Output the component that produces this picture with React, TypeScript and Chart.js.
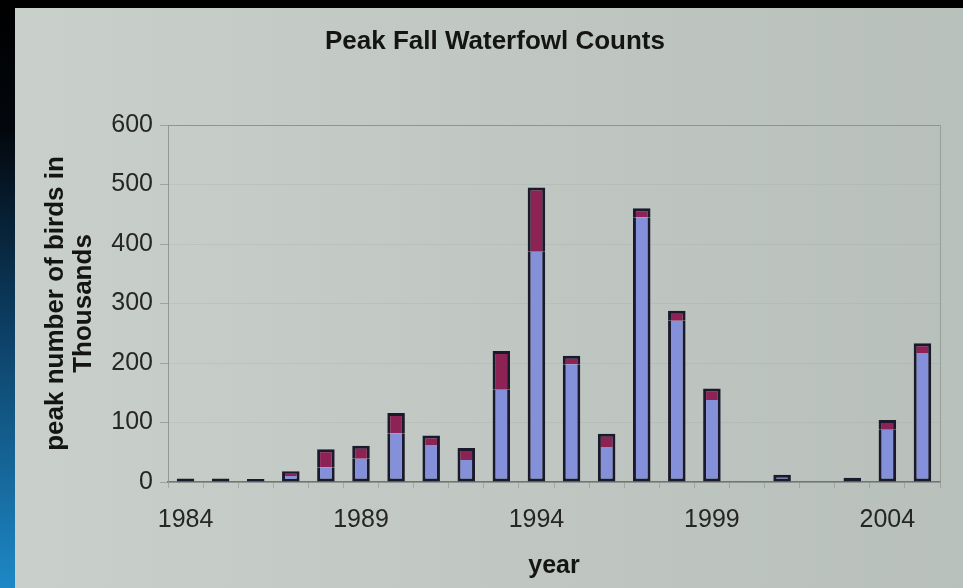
import React, { useEffect, useRef } from "react";
import { Chart, registerables } from "chart.js";

Chart.register(...registerables);

// Survey years, one bar each
const years = [
  "1984", "1985", "1986", "1987", "1988", "1989", "1990", "1991", "1992", "1993", "1994",
  "1995", "1996", "1997", "1998", "1999", "2000", "2001", "2002", "2003", "2004", "2005",
];
// Years that carry a label on the horizontal axis
const labelledYears = ["1984", "1989", "1994", "1999", "2004"];

// Peak counts in thousands: lower (blue) and upper (maroon) parts of each stack
const lowerCounts = [6, 6, 5, 10, 25, 39, 82, 62, 37, 155, 387, 198, 59, 445, 271, 138, 0, 12, 0, 7, 88, 217];
const upperCounts = [0, 0, 0, 8, 30, 22, 34, 16, 20, 65, 108, 14, 22, 15, 17, 19, 0, 0, 0, 0, 16, 16];

// Vertical axis range
const yMin = 0;
const yMax = 600;
const yStep = 100;

const FONT = "'Liberation Sans', Arial, Helvetica, sans-serif";
const EDGE = "#1a1a2c";
const BW = 3;

const backdrop = {
  id: "backdrop",
  beforeDraw(chart: any) {
    const { ctx, width, height } = chart;
    ctx.save();
    ctx.fillStyle = "#000";
    ctx.fillRect(0, 0, width, height);
    const strip = ctx.createLinearGradient(0, 0, 0, height);
    strip.addColorStop(0, "#000000");
    strip.addColorStop(0.22, "#03070d");
    strip.addColorStop(0.55, "#0c3d62");
    strip.addColorStop(1, "#1d88c6");
    ctx.fillStyle = strip;
    ctx.fillRect(0, 0, 15, height);
    const panel = ctx.createLinearGradient(15, 0, width, 0);
    panel.addColorStop(0, "#c9cfca");
    panel.addColorStop(1, "#b8c0bb");
    ctx.fillStyle = panel;
    ctx.fillRect(15, 8, width - 15, height - 8);
    ctx.restore();
  },
  beforeDatasetsDraw(chart: any) {
    const { ctx, chartArea } = chart;
    ctx.save();
    ctx.strokeStyle = "rgba(140,148,144,0.75)";
    ctx.lineWidth = 1;
    ctx.strokeRect(chartArea.left + 0.5, chartArea.top + 0.5, chartArea.right - chartArea.left, chartArea.bottom - chartArea.top);
    ctx.restore();
  },
};

export default function App() {
  const canvasRef = useRef<HTMLCanvasElement | null>(null);

  useEffect(() => {
    document.body.style.margin = "0";
    const canvas = canvasRef.current;
    if (!canvas) return;
    const chart = new Chart(canvas, {
      type: "bar",
      data: {
        labels: years,
        datasets: [
          {
            label: "lower",
            data: lowerCounts,
            backgroundColor: "#8590da",
            borderColor: EDGE,
            borderSkipped: false,
            borderWidth: (c: any) => ({
              left: BW,
              right: BW,
              bottom: BW,
              top: upperCounts[c.dataIndex] > 0 ? 0 : BW,
            }),
            barPercentage: 0.5,
            categoryPercentage: 1,
          },
          {
            label: "upper",
            data: upperCounts,
            backgroundColor: "#8d2254",
            borderColor: EDGE,
            borderSkipped: false,
            borderWidth: { left: BW, right: BW, top: BW, bottom: 0 },
            barPercentage: 0.5,
            categoryPercentage: 1,
          },
        ],
      },
      options: {
        responsive: false,
        animation: false,
        layout: { padding: { left: 50, right: 23, top: 8, bottom: 0 } },
        plugins: {
          legend: { display: false },
          tooltip: { enabled: false },
          title: {
            display: true,
            text: "Peak Fall Waterfowl Counts",
            color: "#141414",
            font: { family: FONT, size: 26, weight: "bold", lineHeight: 1.2 },
            padding: { top: 18, bottom: 67.8 },
          },
        },
        scales: {
          x: {
            stacked: true,
            grid: {
              drawOnChartArea: false,
              drawTicks: true,
              tickLength: 6,
              color: "rgba(130,136,133,0.5)",
            },
            border: { display: true, color: "#6f7572", width: 1.5 },
            ticks: {
              autoSkip: false,
              maxRotation: 0,
              padding: 17,
              color: "#262626",
              font: { family: FONT, size: 25, lineHeight: 1.2 },
              callback: (_v: any, i: number) => (labelledYears.includes(years[i]) ? years[i] : ""),
            },
            title: {
              display: true,
              text: "year",
              color: "#141414",
              font: { family: FONT, size: 25, weight: "bold", lineHeight: 1.2 },
              padding: { top: 0, bottom: 7 },
            },
            afterFit: (scale: any) => {
              scale.height = 106;
            },
          },
          y: {
            stacked: true,
            min: yMin,
            max: yMax,
            grid: {
              color: (c: any) => (c.tick && c.tick.value === yMax ? "rgba(140,148,144,0.9)" : "rgba(150,158,154,0.2)"),
              tickColor: "rgba(130,136,133,0.6)",
              tickLength: 8,
            },
            border: { display: true, color: "rgba(140,148,144,0.7)" },
            ticks: {
              stepSize: yStep,
              padding: 7,
              color: "#262626",
              font: { family: FONT, size: 25, lineHeight: 1.2 },
            },
            title: {
              display: true,
              text: ["peak number of birds in", "Thousands"],
              color: "#141414",
              font: { family: FONT, size: 26, weight: "bold", lineHeight: 1.05 },
              padding: { top: -7.6, bottom: 0 },
            },
            afterFit: (scale: any) => {
              scale.width = 118;
            },
          },
        },
      },
      plugins: [backdrop],
    } as any);
    return () => chart.destroy();
  }, []);

  return (
    <div style={{ position: "absolute", left: 0, top: 0, width: 963, height: 588 }}>
      <canvas ref={canvasRef} width={963} height={588} style={{ display: "block", width: 963, height: 588 }} />
    </div>
  );
}
